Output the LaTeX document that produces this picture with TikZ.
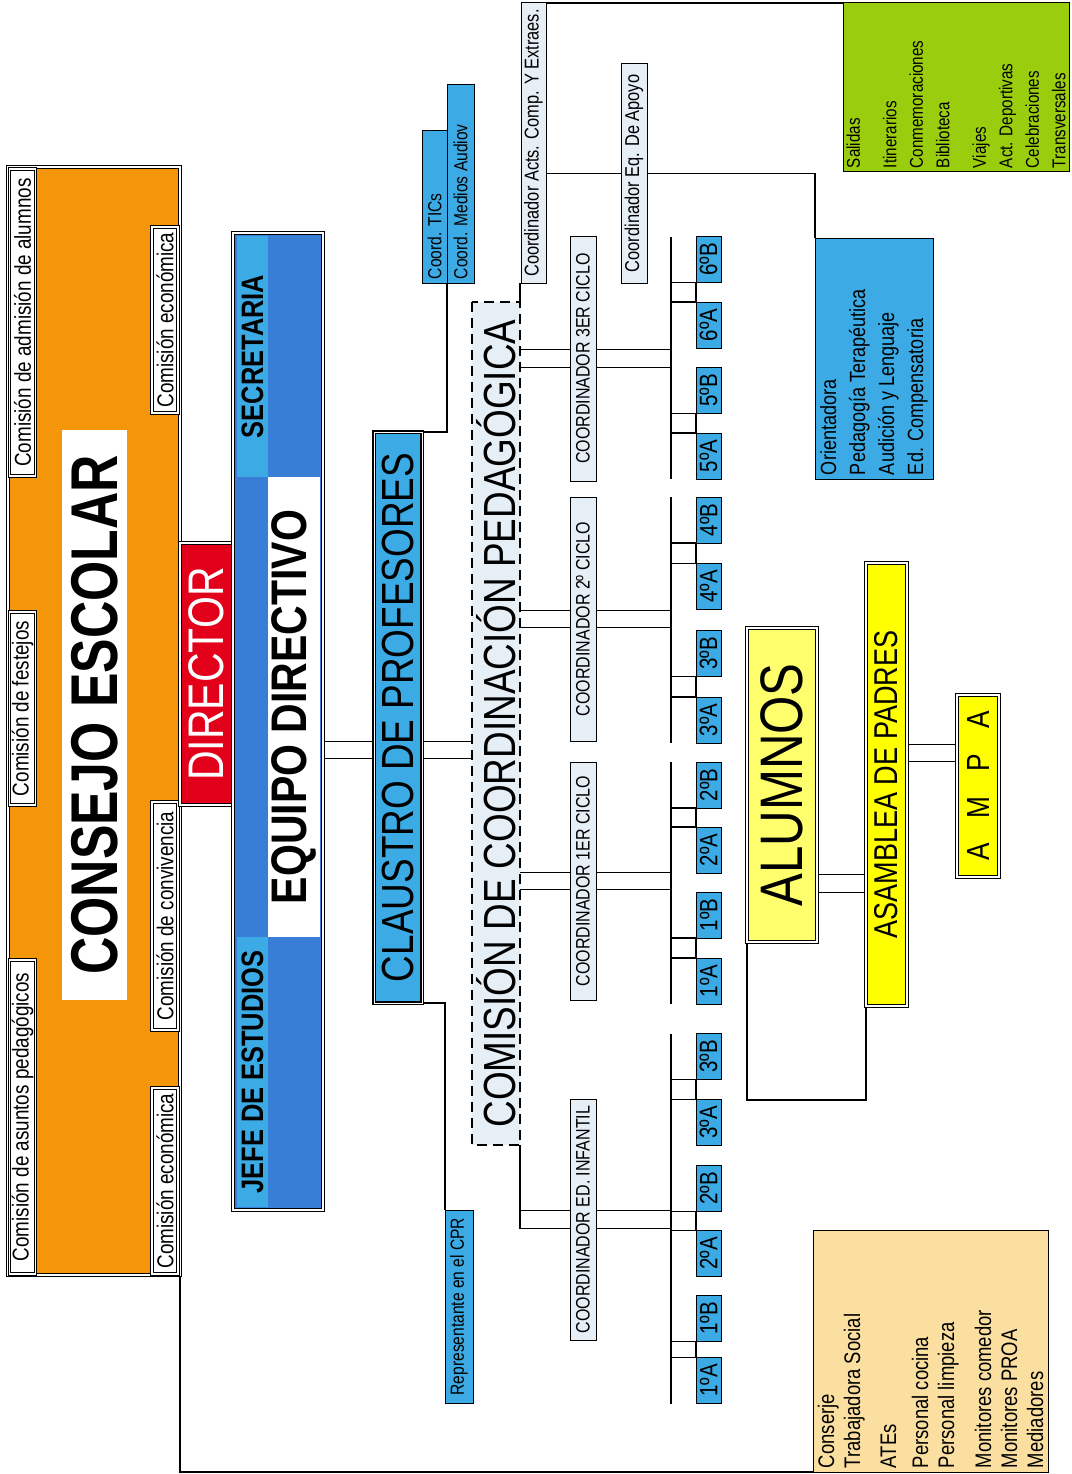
\documentclass[tikz,border=0pt]{standalone}
\usepackage{fontspec}
\setmainfont{Liberation Sans}[FakeStretch=0.82]
\usetikzlibrary{backgrounds}
\definecolor{naranja}{RGB}{245,150,10}
\definecolor{rojo}{RGB}{226,0,26}
\definecolor{azulclaro}{RGB}{60,170,228}
\definecolor{azuloscuro}{RGB}{56,126,214}
\definecolor{palido}{RGB}{230,238,246}
\definecolor{amarillo}{RGB}{255,255,0}
\definecolor{amarillop}{RGB}{255,255,110}
\definecolor{verde}{RGB}{155,205,15}
\definecolor{crema}{RGB}{250,223,160}
\tikzset{caja/.style={rotate=90, draw, line width=1pt, inner sep=0pt, outer sep=0pt},
         marco/.style={caja, double, double distance=1.5pt, line width=0.9pt},
         comi/.style={marco, fill=white, minimum height=26pt, font=\fontsize{23}{27}\selectfont},
         coordbox/.style={caja, fill=palido, minimum height=26pt, font=\fontsize{19.5}{23}\selectfont},
         grupo/.style={caja, fill=azulclaro, minimum height=25pt, minimum width=46pt, font=\fontsize{25}{28}\selectfont},
         lista/.style={align=flush left, inner xsep=4pt, inner ysep=0pt},
         linea/.style={line width=1.2pt},
         doble/.style={double, line width=1.2pt, double distance=16.4pt},
        }
\begin{document}
\begin{tikzpicture}[x=1pt, y=-1pt]
\useasboundingbox (0,0) rectangle (1071,1474);

\node[marco, fill=naranja, minimum height=172pt, minimum width=1108pt] (consejo) at (94,721) {};
\node[rotate=90, fill=white, inner sep=0pt, minimum height=65pt, minimum width=570pt, font=\bfseries\fontsize{63}{70}\selectfont] (lconsejo) at (94.5,715) {\scalebox{1}[1.05]{CONSEJO ESCOLAR}};
\node[comi, minimum width=307pt] (cadm) at (22.5,322.5) {Comisión de admisión de alumnos};
\node[comi, minimum width=193pt] (cfest) at (22.5,708.5) {Comisión de festejos};
\node[comi, minimum width=314pt] (cped) at (22.5,1117) {Comisión de asuntos pedagógicos};
\node[comi, minimum width=186pt] (ceco) at (165,320) {Comisión económica};
\node[comi, minimum width=228pt] (cconv) at (165,916) {Comisión de convivencia};
\node[comi, minimum width=186pt] (ceco2) at (165,1181) {Comisión económica};

\node[marco, fill=rojo, text=white, minimum height=53pt, minimum width=262pt, font=\fontsize{50}{56}\selectfont] (director) at (206.5,674) {DIRECTOR};

\node[marco, fill=azuloscuro, minimum height=90pt, minimum width=977pt] (equipo) at (278,721.5) {};
\node[rotate=90, fill=azulclaro, inner sep=0pt, minimum height=31pt, minimum width=241pt, font=\bfseries\fontsize{31}{34}\selectfont] (secretaria) at (252.5,356.5) {SECRETARIA};
\node[rotate=90, fill=azulclaro, inner sep=0pt, minimum height=31pt, minimum width=270pt, font=\bfseries\fontsize{31}{34}\selectfont] (jefe) at (252.5,1072) {JEFE DE ESTUDIOS};
\node[rotate=90, fill=white, inner sep=0pt, minimum height=52pt, minimum width=460pt, font=\bfseries\fontsize{50}{56}\selectfont] (lequipo) at (294,707) {EQUIPO DIRECTIVO};

\node[caja, fill=azulclaro, double, double distance=1pt, line width=1.4pt, minimum height=48pt, minimum width=571pt, font=\fontsize{45}{50}\selectfont] (claustro) at (398,717.5) {CLAUSTRO DE PROFESORES};
\node[caja, fill=azulclaro, lista, minimum height=25pt, text width=144pt, font=\fontsize{19}{22}\selectfont] (tics) at (434.5,207) {Coord. TICs};
\node[caja, fill=azulclaro, lista, minimum height=27pt, text width=190pt, font=\fontsize{19}{22}\selectfont] (medios) at (460.5,184) {Coord. Medios Audiov};
\node[caja, fill=azulclaro, minimum height=28pt, minimum width=193pt, font=\fontsize{19}{22}\selectfont] (repr) at (459,1306.5) {Representante en el CPR};

\node[caja, fill=palido, dash pattern=on 10pt off 6pt, line width=2.2pt, minimum height=48pt, minimum width=843pt, font=\fontsize{45}{50}\selectfont] (comision) at (496,723.5) {COMISIÓN DE COORDINACIÓN PEDAGÓGICA};

\node[coordbox, minimum height=25pt, minimum width=280pt, font=\fontsize{20}{23}\selectfont] (acts) at (533.5,143) {Coordinador Acts. Comp. Y Extraes.};
\node[coordbox, minimum width=219pt, font=\fontsize{20}{23}\selectfont] (apoyo) at (634,173.5) {Coordinador Eq. De Apoyo};
\node[coordbox, minimum width=245pt] (c3) at (583,358.5) {COORDINADOR 3ER CICLO};
\node[coordbox, minimum width=244pt] (c2) at (583,619) {COORDINADOR 2º CICLO};
\node[coordbox, minimum width=238pt] (c1) at (583,881) {COORDINADOR 1ER CICLO};
\node[coordbox, minimum width=241pt] (cinf) at (583,1219.5) {COORDINADOR ED. INFANTIL};

\node[grupo] (g6B) at (708.5,259.5) {6ºB};
\node[grupo] (g6A) at (708.5,325) {6ºA};
\node[grupo] (g5B) at (708.5,390.5) {5ºB};
\node[grupo] (g5A) at (708.5,456) {5ºA};
\node[grupo] (g4B) at (708.5,520) {4ºB};
\node[grupo] (g4A) at (708.5,586.5) {4ºA};
\node[grupo] (g3B) at (708.5,653.5) {3ºB};
\node[grupo] (g3A) at (708.5,720) {3ºA};
\node[grupo] (g2B) at (708.5,785) {2ºB};
\node[grupo] (g2A) at (708.5,850) {2ºA};
\node[grupo] (g1B) at (708.5,915) {1ºB};
\node[grupo] (g1A) at (708.5,981) {1ºA};
\node[grupo] (i3B) at (708.5,1056.5) {3ºB};
\node[grupo] (i3A) at (708.5,1122.5) {3ºA};
\node[grupo] (i2B) at (708.5,1188.5) {2ºB};
\node[grupo] (i2A) at (708.5,1253.5) {2ºA};
\node[grupo] (i1B) at (708.5,1318.5) {1ºB};
\node[grupo] (i1A) at (708.5,1380.5) {1ºA};

\node[marco, fill=amarillop, minimum height=70pt, minimum width=314pt, font=\fontsize{60}{66}\selectfont] (alumnos) at (782,785) {ALUMNOS};
\node[marco, fill=amarillo, minimum height=41pt, minimum width=443pt, font=\fontsize{33}{38}\selectfont] (asamblea) at (886.5,784.5) {ASAMBLEA DE PADRES};
\node[marco, fill=amarillo, minimum height=42pt, minimum width=182pt, font=\fontsize{32}{36}\selectfont] (ampa) at (978,786) {A\hspace{25pt}M\hspace{25pt}P\hspace{25pt}A};

\node[caja, fill=azulclaro, lista, minimum height=118pt, text width=233pt, font=\fontsize{22}{29}\selectfont] (orienta) at (874,358.5) {Orientadora\\Pedagogía Terapéutica\\Audición y Lenguaje\\Ed. Compensatoria};
\node[caja, fill=verde, lista, minimum height=226pt, text width=161pt, font=\fontsize{18.5}{26.5}\selectfont] (verde) at (956,87.5) {Salidas\\[10pt]Itinerarios\\Conmemoraciones\\Biblioteca\\[10pt]Viajes\\Act. Deportivas\\Celebraciones\\Transversales};
\node[caja, fill=crema, lista, minimum height=235pt, text width=234pt, font=\fontsize{22.5}{26}\selectfont] (crema) at (930.5,1351) {Conserje\\Trabajadora Social\\[10pt]ATEs\\[6pt]Personal cocina\\Personal limpieza\\[11pt]Monitores comedor\\Monitores PROA\\Mediadores};

\coordinate (bus) at (671,0);
\coordinate (eje) at (0,750);
\coordinate (eje2) at (0,883.5);
\coordinate (eje3) at (0,753);

\begin{scope}[on background layer]
\draw[doble] (equipo.south |- eje) -- (claustro.north |- eje);
\draw[doble] (claustro.south |- eje) -- (comision.north |- eje);
\draw[doble] (comision.south |- c3) -- (bus |- c3);
\draw[doble] (comision.south |- c2) -- (bus |- c2);
\draw[doble] (comision.south |- c1) -- (bus |- c1);
\draw[doble] (comision.south west |- cinf) -- (bus |- cinf);
\draw[doble] (alumnos.south |- eje2) -- (asamblea.north |- eje2);
\draw[doble] (asamblea.south |- eje3) -- (ampa.north |- eje3);

\draw[linea] (comision.south west) -- ([yshift=-9pt]comision.south west |- cinf);
\draw[linea] (claustro.south east) -| (medios.north west);
\draw[linea] (claustro.south west) -| (repr.north east);
\draw[linea] (comision.south east) -- (comision.south east |- acts.west);
\draw[linea] (acts.south |- apoyo) -| (orienta.north east);
\draw[linea] (acts.south east) -- (verde.north east);
\draw[linea] (consejo.south west) |- (crema.north west);
\draw[linea] (alumnos.north west) -- ++(0,158) -| (asamblea.north west);

\draw[linea] (bus |- g6B.north east) -- (bus |- g5A.north west);
\draw[linea] (bus |- g4B.north east) -- (bus |- g3A.north west);
\draw[linea] (bus |- g2B.north east) -- (bus |- g1A.north west);
\draw[linea] (bus |- i3B.north east) -- (bus |- i1A.north west);

\draw[linea] (bus |- g6B.north west) -- (g6B.north west) -- (g6A.north east) -- (bus |- g6A.north east);
\draw[linea] (bus |- g5B.north west) -- (g5B.north west) -- (g5A.north east) -- (bus |- g5A.north east);
\draw[linea] (bus |- g4B.north west) -- (g4B.north west) -- (g4A.north east) -- (bus |- g4A.north east);
\draw[linea] (bus |- g3B.north west) -- (g3B.north west) -- (g3A.north east) -- (bus |- g3A.north east);
\draw[linea] (bus |- g2B.north west) -- (g2B.north west) -- (g2A.north east) -- (bus |- g2A.north east);
\draw[linea] (bus |- g1B.north west) -- (g1B.north west) -- (g1A.north east) -- (bus |- g1A.north east);
\draw[linea] (bus |- i3B.north west) -- (i3B.north west) -- (i3A.north east) -- (bus |- i3A.north east);
\draw[linea] (bus |- i2B.north west) -- (i2B.north west) -- (i2A.north east) -- (bus |- i2A.north east);
\draw[linea] (bus |- i1B.north west) -- (i1B.north west) -- (i1A.north east) -- (bus |- i1A.north east);
\end{scope}
\end{tikzpicture}
\end{document}
